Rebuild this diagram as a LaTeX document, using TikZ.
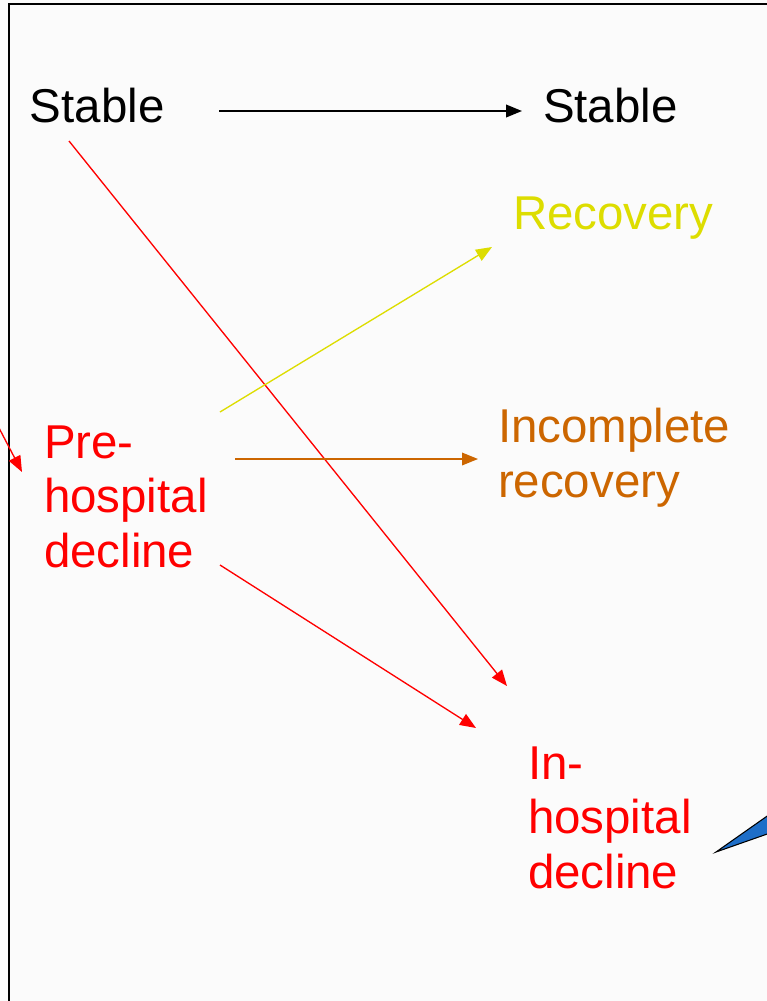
\documentclass[tikz,border=0pt]{standalone}
\usepackage{fontspec}
\setmainfont{Liberation Sans}
\usetikzlibrary{arrows.meta}
\definecolor{ylw}{RGB}{221,221,0}
\definecolor{org}{RGB}{204,102,0}
\definecolor{blu}{RGB}{30,110,200}
\definecolor{bg}{RGB}{251,251,251}
\begin{document}
\begin{tikzpicture}[x=0.75pt,y=-0.75pt,
  lbl/.style={font=\fontsize{35.6}{40.8}\selectfont, inner sep=0pt, outer sep=0pt, anchor=base west, align=left},
  arr/.style={-{Triangle[length=12pt,width=9.5pt]}, line width=1pt}]
\useasboundingbox (0,0) rectangle (767,1001);
\fill[bg] (0,0) rectangle (767,1001);
\draw[line width=1.5pt] (9,1010) -- (9,4) -- (780,4);
% labels (base = baseline of last line)
\node[lbl] (stableA) at (30,122) {Stable};
\node[lbl] (stableB) at (543,122) {Stable};
\node[lbl, text=ylw] (recovery) at (513,229) {Recovery};
\node[lbl, text=org] (incomplete) at (498,497) {Incomplete\\recovery};
\node[lbl, text=red] (pre) at (44,567) {Pre-\\hospital\\decline};
\node[lbl, text=red] (inh) at (528,888) {In-\\hospital\\decline};
% connector end points
\coordinate (sA) at (219,111);
\coordinate (sB) at (522,111);
\coordinate (sAd) at (69,141);
\coordinate (inhA) at (507,686);
\coordinate (preY) at (220,412);
\coordinate (recA) at (492,247);
\coordinate (preO) at (235,459);
\coordinate (incA) at (478,459);
\coordinate (preR) at (220,565);
\coordinate (inhB) at (476,728);
\coordinate (leftIn) at (-2,426);
\coordinate (preIn) at (22,472);
% connectors
\draw[arr, line width=1.3pt] (sA) -- (sB);
\draw[arr, red] (sAd) -- (inhA);
\draw[arr, ylw] (preY) -- (recA);
\draw[arr, org] (preO) -- (incA);
\draw[arr, red] (preR) -- (inhB);
\draw[arr, red] (leftIn) -- (preIn);
% callout pointer
\filldraw[fill=blu, draw=black, line width=0.8pt] (716,852) -- (790,800) -- (790,826) -- cycle;
\end{tikzpicture}
\end{document}
